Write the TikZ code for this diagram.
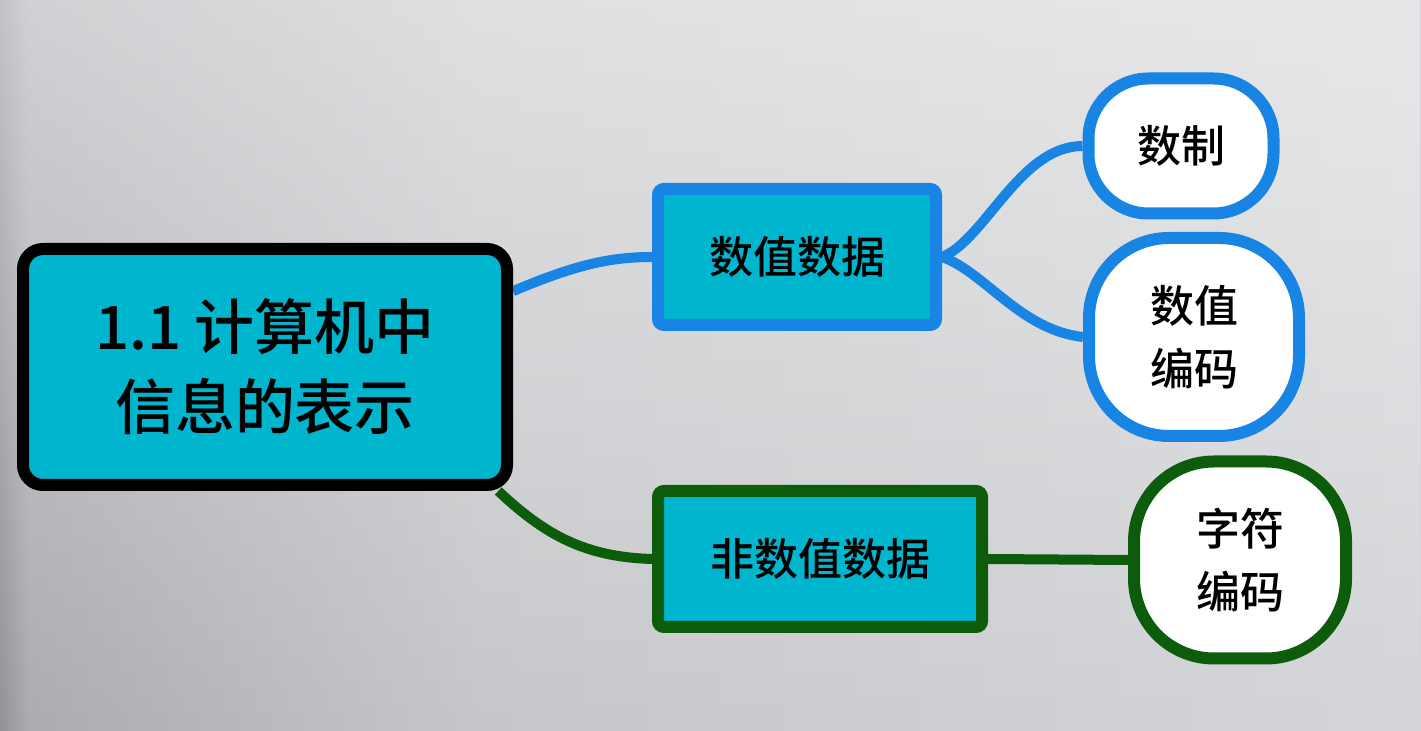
\documentclass[tikz,border=0pt]{standalone}
\usepackage{fontspec}
\newfontfamily\cjk{Noto Sans CJK SC Medium}
\usetikzlibrary{backgrounds,fadings}
\definecolor{cyanfill}{RGB}{0,181,206}
\definecolor{bblue}{RGB}{24,132,228}
\definecolor{dgreen}{RGB}{12,92,12}
\definecolor{bgA}{RGB}{145,147,151}
\definecolor{bgB}{RGB}{170,172,176}
\definecolor{bgM}{RGB}{198,199,202}
\definecolor{bgR}{RGB}{212,213,216}
\pgfdeclarehorizontalshading{bgshade}{100bp}{color(0bp)=(bgA); color(25bp)=(bgA); color(26bp)=(bgB); color(42bp)=(bgM); color(75bp)=(bgR); color(100bp)=(bgR)}
\tikzset{
  rootbox/.style={draw=black, line width=6pt, fill=cyanfill, rounded corners=10pt,
    minimum width=242pt, minimum height=118pt, inner sep=0pt, align=center,
    font=\cjk\fontsize{30}{40}\selectfont},
  midbox/.style={line width=6pt, fill=cyanfill, rounded corners=3pt,
    minimum height=68pt, inner sep=0pt, font=\cjk\fontsize{22}{28}\selectfont},
  leafbox/.style={line width=6pt, fill=white, inner sep=0pt, align=center,
    font=\cjk\fontsize{22}{31.5}\selectfont},
  link/.style={line width=5pt},
}
\begin{document}
\begin{tikzpicture}[x=0.5pt,y=-0.5pt]
\useasboundingbox (0,0) rectangle (1421,731);
% nodes
\node[rootbox] (root) at (265,367) {1.1 计算机中\\信息的表示};
\node[midbox, draw=bblue, minimum width=139pt] (num) at (797,257) {数值数据};
\node[midbox, draw=dgreen, minimum width=162pt] (nonnum) at (820,559) {非数值数据};
\node[leafbox, draw=bblue, minimum width=92.5pt, minimum height=67.5pt, rounded corners=30pt] (sys) at (1181,146) {数制};
\node[leafbox, draw=bblue, minimum width=105pt, minimum height=99pt, rounded corners=40pt] (ncode) at (1194,337) {数值\\编码};
\node[leafbox, draw=dgreen, minimum width=106pt, minimum height=98.5pt, rounded corners=40pt] (ccode) at (1240,560) {字符\\编码};
\begin{scope}[on background layer]
  \shade[shading=bgshade] (0,0) rectangle (1421,731);
  \fill[white, path fading=south, opacity=0.45] (0,0) rectangle (1421,731);
  % connectors
  \draw[link, bblue] (root.17) .. controls (575,265) and (610,257) .. (num.west);
  \draw[link, dgreen] (root.-28) .. controls (545,535) and (585,557) .. (nonnum.west);
  \draw[link, bblue] (num.east) .. controls (985,240) and (1020,146) .. (sys.west);
  \draw[link, bblue] (num.east) .. controls (985,272) and (1020,330) .. (ncode.west);
  \draw[link, dgreen] (nonnum.east) -- (ccode.west);
\end{scope}
\end{tikzpicture}
\end{document}
